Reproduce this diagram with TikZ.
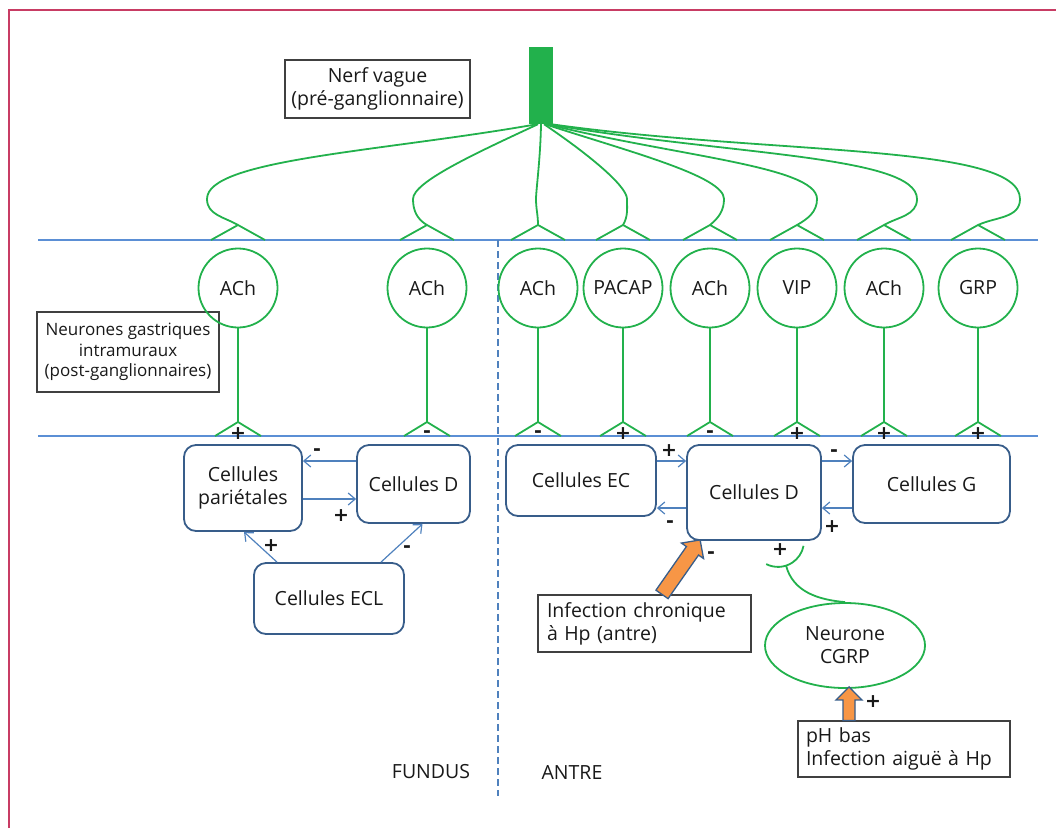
\documentclass[tikz,border=0pt]{standalone}
\usepackage{fontspec}
\setmainfont{Open Sans}
\newfontfamily\signfont{DejaVu Sans}
\usetikzlibrary{arrows.meta,positioning,shapes.geometric,calc}
\definecolor{nervegreen}{RGB}{34,177,76}
\definecolor{cellblue}{RGB}{56,93,138}
\definecolor{regblue}{RGB}{79,129,189}
\definecolor{layerblue}{RGB}{91,143,213}
\definecolor{framered}{RGB}{200,60,100}
\definecolor{hporange}{RGB}{247,150,70}
\tikzset{
    cell/.style={draw=cellblue, line width=1.8pt, rounded corners=12pt, align=center, inner sep=0pt},
    neuron/.style={circle, draw=nervegreen, line width=1.8pt, minimum size=79pt, inner sep=0pt},
    fiber/.style={draw=nervegreen, line width=1.8pt},
    reg/.style={draw=regblue, line width=1.2pt, -{Straight Barb[length=7pt,width=12pt]}},
    txtbox/.style={draw=black!75, line width=1.2pt, inner sep=0pt},
    sign/.style={font=\signfont\fontsize{19}{22}\selectfont\bfseries, inner sep=0pt},
    layer/.style={draw=layerblue, line width=1.3pt},
}
\newcommand{\hpflow}[5]{%
    \coordinate (hpH) at ($(#1)!#3!(#2)$);
    \filldraw[fill=hporange, draw=cellblue, line width=1.3pt]
        ($(#1)!#4!90:(#2)$) -- ($(hpH)!#4!90:(#2)$) -- ($(hpH)!#5!90:(#2)$) -- (#2)
        -- ($(hpH)!#5!-90:(#2)$) -- ($(hpH)!#4!-90:(#2)$) -- ($(#1)!#4!-90:(#2)$) -- cycle;
}

\begin{document}
\begin{tikzpicture}[x=1pt, y=-1pt, font=\fontsize{19.5}{23}\selectfont, text=black!90]
    \useasboundingbox (0,0) rectangle (1056,828);
    \draw[framered, line width=2.5pt] (9,828) -- (9,10) -- (1056,10);
    \draw[layer] (38,240) -- (1038,240);
    \draw[layer] (38,436) -- (1038,436);
    \draw[regblue, line width=2pt, dash pattern=on 7pt off 4pt] (498,240) -- (498,796);

    \node[fill=nervegreen, minimum width=24pt, minimum height=77pt, inner sep=0pt] (trunk) at (541,85.5) {};
    \node[txtbox, minimum width=185pt, minimum height=58pt, align=center] (nerf) at (377.5,89) {Nerf vague\\(pré-ganglionnaire)};
    \node[txtbox, minimum width=182pt, minimum height=80pt, align=center, font=\fontsize{17}{20.5}\selectfont] (intra) at (128,352) {Neurones gastriques\\intramuraux\\(post-ganglionnaires)};

    \foreach \n/\nx/\sx/\bx/\oa/\ia/\lab/\sg in {
        n1/238/-4/207/190/150/ACh/+,
        n2/427/-3/413/205/150/ACh/-,
        n3/538/0/536/-91/90/ACh/-,
        n4/623/3/627/-34/60/PACAP/+,
        n5/710/4/724/-18/40/ACh/-,
        n6/797/6/817/-14/30/VIP/+,
        n7/884/8/917/-10/30/ACh/+,
        n8/978/10/1020/-8/25/GRP/+}{
        \node[neuron] (\n) at (\nx,288) {\lab};
        \draw[fiber] ([xshift=\sx pt]trunk.south) to[out=\oa, in=90, out looseness=1.2, in looseness=0.3] (\bx,199) to[out=-90, in=\ia] (\nx,225);
        \draw[fiber] (\nx-27,240) -- (\nx,225) -- (\nx+27,240);
        \draw[fiber] (\n.south) -- (\nx,422);
        \draw[fiber] (\nx-23,436) -- (\nx,422) -- (\nx+23,436);
        \node[sign] (s\n) at (\nx,434) {\sg};
    }

    \node[cell, minimum width=118pt, minimum height=86pt] (par) at (243,488) {Cellules\\pariétales};
    \node[cell, minimum width=113pt, minimum height=78pt] (dF) at (413.5,484) {Cellules D};
    \node[cell, minimum width=150pt, minimum height=71pt] (ecl) at (329,598.5) {Cellules ECL};
    \node[cell, minimum width=150pt, minimum height=71pt] (ec) at (581,480.5) {Cellules EC};
    \node[cell, minimum width=134pt, minimum height=95pt] (dA) at (754,492.5) {Cellules D};
    \node[cell, minimum width=157pt, minimum height=78pt] (g) at (931.5,484) {Cellules G};

    \draw[reg] ([yshift=23pt]dF.west) -- ([yshift=27pt]par.east);
    \draw[reg] ([yshift=-11pt]par.east) -- ([yshift=-15pt]dF.west);
    \draw[reg] ([xshift=-52pt]ecl.north) -- ([xshift=1pt]par.south);
    \draw[reg] ([xshift=52pt]ecl.north) -- ([xshift=9pt]dF.south);
    \draw[reg] ([yshift=19.5pt]ec.east) -- ([yshift=31.5pt]dA.west);
    \draw[reg] ([yshift=-15.5pt]dA.west) -- ([yshift=-27.5pt]ec.east);
    \draw[reg] ([yshift=31.5pt]dA.east) -- ([yshift=23pt]g.west);
    \draw[reg] ([yshift=-24pt]g.west) -- ([yshift=-15.5pt]dA.east);

    \node[sign] (sa) at (317,452) {-};
    \node[sign] (sb) at (341,516) {+};
    \node[sign] (sc) at (271,546) {+};
    \node[sign] (sd) at (407,549) {-};
    \node[sign] (se) at (669,451) {+};
    \node[sign] (sf) at (670,524) {-};
    \node[sign] (sg) at (834,453) {-};
    \node[sign] (sh) at (832,527) {+};

    \node[txtbox, minimum width=213pt, minimum height=57pt, text width=195pt, align=left] (inf) at (644.5,623.5) {Infection chronique\\à Hp (antre)};
    \node[ellipse, draw=nervegreen, line width=1.8pt, minimum width=160pt, minimum height=85pt, inner sep=0pt, align=center] (cgrp) at (845,645.5) {Neurone\\CGRP};
    \node[txtbox, minimum width=212pt, minimum height=56pt, text width=196pt, align=left] (ph) at (904,749) {pH bas\\Infection aiguë à Hp};

    \coordinate (dtip) at ([xshift=14pt,yshift=1pt]dA.south west);
    \coordinate (ibase) at ([xshift=17.5pt]inf.north);
    \hpflow{ibase}{dtip}{0.8}{7.4pt}{13.5pt}
    \coordinate (pbase) at ([xshift=-55pt]ph.north);
    \coordinate (ptip) at ([yshift=2pt]pbase |- cgrp.south);
    \hpflow{pbase}{ptip}{0.61}{6pt}{13pt}
    \node[sign] (si) at (711,555) {-};
    \node[sign] (sj) at (873,702) {+};

    \coordinate (arcc) at ([xshift=24pt]dA.south);
    \draw[fiber] (arcc) ++(243:26pt) arc[start angle=243, end angle=349, radius=26pt];
    \draw[fiber] ([shift={(288:26pt)}]arcc) to[out=-75, in=175] (cgrp.north);
    \node[sign] (sk) at (780,550) {+};

    \node (fundus) at (431,772) {FUNDUS};
    \node (antre) at (572,772) {ANTRE};
\end{tikzpicture}
\end{document}
